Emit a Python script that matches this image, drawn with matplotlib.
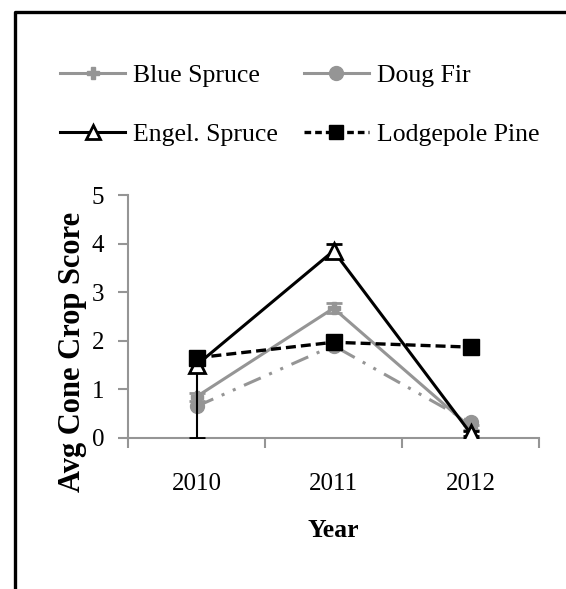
import matplotlib
matplotlib.use('Agg')
import matplotlib.pyplot as plt
from matplotlib.lines import Line2D
import numpy as np

plt.rcParams['font.family'] = ['Liberation Serif', 'DejaVu Serif']

# Data
years = ['2010', '2011', '2012']
blue_spruce = [0.85, 2.67, 0.22]
blue_spruce_err = [0.08, 0.10, 0.05]
doug_fir = [0.65, 1.90, 0.32]
engel_spruce = [1.50, 3.85, 0.10]
engel_err_low = [1.50, 0.15, 0.05]
engel_err_high = [0.05, 0.15, 0.05]
lodgepole = [1.65, 1.97, 1.87]

gray = '#959595'
x = np.arange(1, len(years) + 1)

fig = plt.figure(figsize=(5.66, 5.89), dpi=100)
W, H = 566, 589
ax = fig.add_axes([128 / W, 1 - 438 / H, 411 / W, 243 / H])

# frame around the figure (only top and left are in view)
fig.add_artist(Line2D([15 / W, 15 / W, 1.0], [0.0, 1 - 11.5 / H, 1 - 11.5 / H],
                      transform=fig.transFigure, color='black', lw=2.4))

ax.plot(x, doug_fir, color=gray, lw=2.2, ls=(0, (6, 3, 1, 3, 1, 3)),
        marker='o', ms=10, mfc=gray, mec=gray, zorder=2)
ax.errorbar(x, blue_spruce, yerr=blue_spruce_err, color=gray, lw=2.2,
            marker='P', ms=8, capsize=6, capthick=2, elinewidth=1.5, zorder=3)
ax.errorbar(x, engel_spruce, yerr=[engel_err_low, engel_err_high], color='black', lw=2.2,
            marker='^', ms=11, mfc='white', mec='black', mew=2,
            capsize=6, capthick=1.5, elinewidth=1.5, zorder=4)
ax.plot(x, lodgepole, color='black', lw=2.4, ls=(0, (3, 1.5)),
        marker='s', ms=11, mfc='black', mec='black', zorder=5)

ax.set_xlim(0.5, 3.5)
ax.set_ylim(0, 5)
ax.set_xticks([0.5, 1.5, 2.5, 3.5])
ax.set_xticklabels([])
ax.set_xticks(x, minor=True)
ax.set_xticklabels(years, minor=True)
ax.tick_params(axis='x', which='major', length=7, width=1.5, color=gray, direction='out')
ax.tick_params(axis='x', which='minor', length=0, pad=25, labelsize=18)
ax.set_yticks(range(6))
ax.tick_params(axis='y', length=7, width=1.5, color=gray, direction='out', pad=10, labelsize=18)

for side in ['top', 'right']:
    ax.spines[side].set_visible(False)
for side in ['left', 'bottom']:
    ax.spines[side].set_color(gray)
    ax.spines[side].set_linewidth(1.5)

ax.set_ylabel('Avg Cone Crop Score', fontsize=22, fontweight='bold', va='center')
ax.yaxis.set_label_coords(-0.136, 0.354)
ax.set_xlabel('Year', fontsize=18.5, fontweight='bold', va='center')
ax.xaxis.set_label_coords(0.499, -0.379)

# legend proxies (Doug Fir shown with a solid line in the legend)
h_blue = Line2D([], [], color=gray, lw=2.2, marker='P', ms=8)
h_doug = Line2D([], [], color=gray, lw=2.2, marker='o', ms=10)
h_engel = Line2D([], [], color='black', lw=2.2, marker='^', ms=10, mfc='white', mew=2)
h_lodge = Line2D([], [], color='black', lw=2.4, ls=(0, (2, 1.2)), marker='s', ms=10)
fig.legend([h_blue, h_engel, h_doug, h_lodge],
           ['Blue Spruce', 'Engel. Spruce', 'Doug Fir', 'Lodgepole Pine'],
           ncol=2, loc='upper left', bbox_to_anchor=(60 / W, 1 - 64 / H),
           frameon=False, fontsize=18.5, handlelength=2.53, handletextpad=0.31,
           columnspacing=1.0, labelspacing=1.42, borderpad=0, borderaxespad=0)

fig.savefig('out.png', dpi=100)
